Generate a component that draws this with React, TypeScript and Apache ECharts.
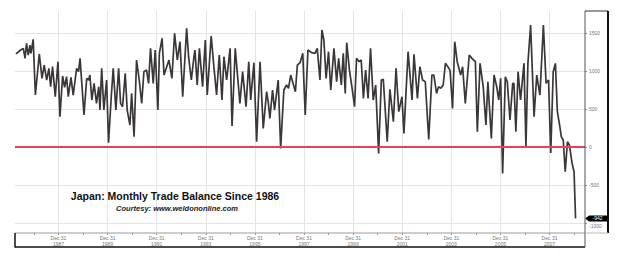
import React, { useEffect, useRef } from "react";
import * as echarts from "echarts";

// Decimal-year position of each visible vertex of the monthly series
const pointYears = [
  1986.27, 1986.46, 1986.57, 1986.64, 1986.70, 1986.77, 1986.84, 1986.88, 1986.97, 1987.06,
  1987.22, 1987.33, 1987.42, 1987.52, 1987.61, 1987.68, 1987.76, 1987.87, 1987.98, 1988.06,
  1988.17, 1988.25, 1988.33, 1988.40, 1988.51, 1988.60, 1988.74, 1988.82, 1988.88, 1988.97,
  1989.04, 1989.15, 1989.23, 1989.28, 1989.36, 1989.45, 1989.55, 1989.64, 1989.69, 1989.76,
  1989.85, 1989.96, 1990.04, 1990.15, 1990.23, 1990.34, 1990.45, 1990.53, 1990.61, 1990.72,
  1990.80, 1990.91, 1990.98, 1991.08, 1991.18, 1991.29, 1991.39, 1991.48, 1991.59, 1991.67,
  1991.75, 1991.86, 1991.94, 1992.05, 1992.11, 1992.22, 1992.30, 1992.41, 1992.50, 1992.62,
  1992.73, 1992.84, 1992.95, 1993.06, 1993.22, 1993.30, 1993.41, 1993.52,
  1993.56, 1993.65, 1993.74, 1993.87, 1993.98, 1994.06, 1994.22, 1994.33, 1994.44, 1994.55,
  1994.66, 1994.74, 1994.85, 1994.99, 1995.07, 1995.20, 1995.28, 1995.39, 1995.50, 1995.64,
  1995.75, 1995.83, 1995.96, 1996.07, 1996.21, 1996.34, 1996.48, 1996.55, 1996.61, 1996.72,
  1996.80, 1996.95, 1997.05, 1997.18, 1997.29, 1997.37, 1997.46, 1997.65, 1997.73, 1997.84,
  1997.95, 1998.05, 1998.16, 1998.31, 1998.45, 1998.54, 1998.65, 1998.73, 1998.81, 1998.90,
  1999.00, 1999.09, 1999.22, 1999.33, 1999.41, 1999.52, 1999.60, 1999.68, 1999.74, 1999.85,
  1999.95, 2000.06, 2000.14, 2000.25, 2000.33, 2000.42, 2000.51, 2000.61, 2000.71, 2000.82,
  2000.92, 2001.04, 2001.15, 2001.23,
  2001.39, 2001.50, 2001.64, 2001.75, 2001.86, 2001.99, 2002.07, 2002.24, 2002.40, 2002.48,
  2002.62, 2002.72, 2002.83, 2002.94, 2003.08, 2003.21, 2003.29, 2003.40, 2003.48, 2003.57,
  2003.67, 2003.76, 2003.86, 2003.95, 2004.05, 2004.14, 2004.24, 2004.38, 2004.46, 2004.57,
  2004.73, 2004.84, 2004.98, 2005.06, 2005.17, 2005.30, 2005.41, 2005.49, 2005.63, 2005.74,
  2005.85, 2005.93, 2006.01, 2006.09, 2006.20, 2006.28, 2006.39, 2006.50, 2006.55, 2006.63,
  2006.72, 2006.82, 2006.96, 2007.04, 2007.12, 2007.23, 2007.37, 2007.48, 2007.61, 2007.75,
  2007.86, 2007.96, 2008.05, 2008.15, 2008.24, 2008.32, 2008.40, 2008.48, 2008.56, 2008.64,
  2008.73, 2008.81, 2008.92, 2009.00, 2009.06,
];

// Trade balance (billion yen) at those points
const balanceValues = [
  1228, 1280, 1302, 1170, 1368, 1214, 1346, 1236, 1421, 686,
  1228, 906, 1082, 884, 1038, 796, 1060, 664, 1126, 400,
  937, 788, 928, 664, 920, 686, 1038, 994, 1170, 752,
  422, 906, 884, 950, 620, 840, 576, 796, 488, 1038,
  488, 884, 57, 664, 1038, 488, 1038, 576, 532, 972,
  488, 290, 708, 136, 1148, 884, 576, 994, 1016, 840,
  1302, 840, 1280, 488, 1236, 1434, 950, 1060, 1148, 906,
  1500, 1148, 1390, 664, 1566, 1192, 884, 1192,
  1280, 818, 1302, 796, 1412, 686, 1465, 1060, 686, 1214,
  620, 1192, 884, 1302, 277, 1302, 994, 576, 994, 532,
  1126, 620, 1113, 70, 1126, 246, 730, 576, 378, 752,
  488, 884, -18, 752, 818, 774, 950, 730, 1082, 1113,
  1236, 422, 1280, 1245, 1236, 1302, 884, 1544, 1412, 906,
  1258, 752, 1302, 862, 1170, 818, 1236, 708, 1377, 1016,
  796, 532, 1170, 1126, 1148, 642, 1016, 642, 1302, 620,
  818, -84, 884, 893,
  70, 761, 334, 1038, 466, 664, 180, 1258, 620, 1223,
  642, 1060, 884, 862, 101, 950, 950, 708, 796, 774,
  818, 1104, 1060, 1008, 510, 1390, 1126, 950, 1060, 576,
  1214, 1170, 1126, 202, 1104, 796, 290, 862, 114, 950,
  796, 620, 906, -348, 928, 862, 356, 840, 840, 202,
  994, 620, 1104, 13, 1104, 1610, 400, 950, 686, 1610,
  840, 884, -79, 994, 1104, 466, 312, 136, 92, -326,
  70, 26, -216, -326, -942,
];

const xLabelYears = [1988, 1990, 1992, 1994, 1996, 1998, 2000, 2002, 2004, 2006, 2008];
const xMinorTickYears = [
  1987, 1988, 1989, 1990, 1991, 1992, 1993, 1994, 1995, 1996, 1997, 1998,
  1999, 2000, 2001, 2002, 2003, 2004, 2005, 2006, 2007, 2008, 2009,
];
const yTickValues = [-1000, -500, 0, 500, 1000, 1500];
const titleText = "Japan: Monthly Trade Balance Since 1986";
const courtesyText = "Courtesy: www.weldononline.com";
const lastValueText = "-942";

export default function App() {
  const ref = useRef<HTMLDivElement>(null);
  useEffect(() => {
    const chart = echarts.init(ref.current!, null, { renderer: "svg" });
    const data = pointYears.map((y, i) => [y, balanceValues[i]]);
    const last = data[data.length - 1];
    const xMin = 1986.23;
    const xMax = 2009.445;
    chart.setOption({
      animation: false,
      backgroundColor: "#ffffff",
      textStyle: { fontFamily: "Liberation Sans" },
      grid: { left: 15, right: 35, top: 11, bottom: 25 },
      xAxis: [
        {
          type: "value",
          min: xMin,
          max: xMax,
          position: "bottom",
          axisLine: { show: false },
          axisTick: { show: false, customValues: xLabelYears },
          axisLabel: {
            customValues: xLabelYears,
            formatter: (v: number) => "Dec 31\n" + (Math.round(v) - 1),
            fontSize: 5,
            lineHeight: 6,
            color: "#777",
            margin: 2,
          },
          splitLine: { show: true, lineStyle: { color: "#e4e4e4", width: 1 } },
        },
        {
          type: "value",
          min: xMin,
          max: xMax,
          position: "bottom",
          axisLine: { show: false },
          axisTick: { show: true, customValues: xMinorTickYears, length: 2, lineStyle: { color: "#999" } },
          axisLabel: { show: false },
          splitLine: { show: false },
        },
      ],
      yAxis: {
        type: "value",
        position: "right",
        min: -1135,
        max: 1795,
        axisLine: { show: false },
        axisTick: { show: true, customValues: yTickValues, length: 2, lineStyle: { color: "#999" } },
        axisLabel: {
          customValues: yTickValues,
          fontSize: 5,
          color: "#777",
          margin: 4,
          formatter: (v: number) => (v === -1000 ? "{lo|" + String(v) + "}" : String(v)),
          rich: { lo: { fontSize: 5, color: "#777", padding: [6, 0, 0, 0] } },
        },
        splitLine: { show: true, lineStyle: { color: "#e4e4e4", width: 1 } },
      },
      series: [
        {
          type: "line",
          xAxisIndex: 0,
          data,
          symbol: "none",
          lineStyle: { color: "#3b3737", width: 1.7 },
          z: 3,
          markLine: {
            silent: true,
            symbol: "none",
            label: { show: false },
            lineStyle: { color: "#e8424e", width: 2, type: "solid" },
            data: [{ yAxis: 0 }],
          },
          markPoint: {
            silent: true,
            symbol: "path://M0,5L5,0L28,0L28,10L5,10Z",
            symbolSize: [23, 6],
            symbolKeepAspect: false,
            symbolOffset: [21, 0],
            itemStyle: { color: "#000" },
            label: {
              show: true,
              position: "inside",
              formatter: lastValueText,
              color: "#fff",
              fontSize: 5,
              offset: [1, 0],
            },
            data: [{ coord: last, value: last[1] }],
          },
        },
      ],
      graphic: [
        { type: "line", z: 100, shape: { x1: 15, y1: 233, x2: 585, y2: 233 }, style: { stroke: "#9a9a9a", lineWidth: 1 } },
        { type: "line", z: 100, shape: { x1: 15, y1: 233, x2: 15, y2: 247.5 }, style: { stroke: "#111", lineWidth: 1.5 } },
        { type: "line", z: 100, shape: { x1: 15, y1: 247, x2: 585, y2: 247 }, style: { stroke: "#111", lineWidth: 1.5 } },
        { type: "line", z: 100, shape: { x1: 585, y1: 11, x2: 585, y2: 247 }, style: { stroke: "#555", lineWidth: 1 } },
        { type: "line", z: 100, shape: { x1: 585, y1: 11, x2: 608, y2: 11 }, style: { stroke: "#333", lineWidth: 1 } },
        { type: "line", z: 100, shape: { x1: 608, y1: 11, x2: 608, y2: 233 }, style: { stroke: "#111", lineWidth: 2 } },
        { type: "line", z: 100, shape: { x1: 585, y1: 233, x2: 608, y2: 233 }, style: { stroke: "#bbb", lineWidth: 1 } },
        {
          type: "text",
          z: 100,
          x: 175,
          y: 196,
          style: {
            text: titleText,
            fontFamily: "Liberation Sans",
            fontWeight: 900,
            fontSize: 10.5,
            fill: "#111",
            align: "center",
            verticalAlign: "middle",
          },
        },
        {
          type: "text",
          z: 100,
          x: 177,
          y: 208,
          style: {
            text: courtesyText,
            fontFamily: "Liberation Sans",
            fontWeight: "bold",
            fontStyle: "italic",
            fontSize: 7.5,
            fill: "#222",
            align: "center",
            verticalAlign: "middle",
          },
        },
      ],
    });
    return () => chart.dispose();
  }, []);
  return (
    <div
      ref={ref}
      style={{ position: "absolute", left: 0, top: 0, width: 620, height: 258, background: "#fff" }}
    />
  );
}
